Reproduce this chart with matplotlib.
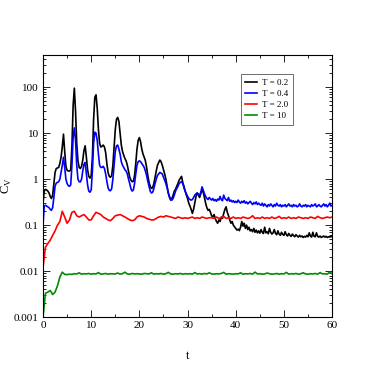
import numpy as np
import matplotlib
matplotlib.use("Agg")
import matplotlib.pyplot as plt
from matplotlib.ticker import MultipleLocator, LogLocator, NullFormatter, FixedLocator, FixedFormatter

plt.rcParams['font.family'] = ['Liberation Serif', 'DejaVu Serif']

# time grids (black/blue sampled every 0.25, red/green every 0.5)
t_fine = np.arange(0, 60.001, 0.25)
t_coarse = np.arange(0, 60.001, 0.5)

cv_T02 = [
    0.30, 0.55, 0.60, 0.58, 0.55, 0.50, 0.42, 0.38, 0.45, 0.80, 1.40, 1.70, 1.75, 1.80, 2.20, 3.00, 5.00, 9.50, 4.00, 1.90,
    1.55, 1.50, 1.50, 1.60, 5.0, 40, 95, 30, 6.0, 2.5, 1.8, 1.7, 1.9, 2.6, 4.2, 5.3, 3.0, 1.6, 1.15, 1.05,
    1.2, 3.0, 20, 60, 68, 35, 12, 6.0, 5.0, 5.2, 5.5, 5.0, 3.8, 2.2, 1.4, 1.15, 1.1, 1.2, 2.0, 5.0,
    12, 20, 22, 18, 10, 5.5, 4.0, 3.3, 2.8, 2.5, 2.0, 1.5, 1.1, 0.95, 0.88, 0.90, 1.2, 2.2, 4.5, 7.0,
    8.0, 6.5, 4.5, 3.5, 3.0, 2.5, 1.8, 1.2, 0.85, 0.70, 0.63, 0.65, 0.80, 1.1, 1.5, 2.0, 2.3, 2.6, 2.4, 2.0,
    1.6, 1.3, 1.0, 0.70, 0.50, 0.40, 0.35, 0.38, 0.45, 0.55, 0.60, 0.70, 0.80, 0.95, 1.05, 1.15, 0.85, 0.70, 0.55, 0.45,
    0.38, 0.30, 0.26, 0.22, 0.18, 0.22, 0.30, 0.42, 0.50, 0.45, 0.40, 0.48, 0.58, 0.52, 0.40, 0.30, 0.24, 0.21, 0.22, 0.19,
    0.16, 0.15, 0.17, 0.14, 0.12, 0.11, 0.13, 0.12, 0.15, 0.14, 0.18, 0.22, 0.25, 0.19, 0.16, 0.13, 0.11, 0.12, 0.10, 0.092,
    0.085, 0.078, 0.082, 0.076, 0.09, 0.12, 0.095, 0.11, 0.085, 0.10, 0.08, 0.09, 0.075, 0.08, 0.072, 0.085, 0.07, 0.078, 0.068, 0.075,
    0.067, 0.08, 0.07, 0.066, 0.09, 0.068, 0.072, 0.065, 0.085, 0.07, 0.064, 0.068, 0.08, 0.066, 0.062, 0.075, 0.064, 0.06, 0.07, 0.063,
    0.06, 0.072, 0.062, 0.058, 0.066, 0.06, 0.057, 0.064, 0.059, 0.056, 0.062, 0.058, 0.055, 0.06, 0.056, 0.058, 0.054, 0.057, 0.055, 0.06,
    0.056, 0.068, 0.058, 0.055, 0.07, 0.057, 0.056, 0.068, 0.057, 0.055, 0.058, 0.054, 0.056, 0.058, 0.055, 0.057, 0.054, 0.056, 0.055, 0.057,
    0.056,
]

cv_T04 = [
    0.10, 0.26, 0.27, 0.26, 0.25, 0.24, 0.22, 0.21, 0.24, 0.40, 0.70, 0.82, 0.85, 0.88, 1.0, 1.4, 2.0, 3.0, 1.8, 1.0,
    0.80, 0.72, 0.70, 0.75, 2.0, 8.0, 13.0, 7.0, 2.0, 1.0, 0.88, 0.87, 1.0, 1.5, 2.1, 2.3, 1.3, 0.75, 0.55, 0.52,
    0.58, 1.5, 6.0, 10.5, 10.0, 7.0, 3.5, 2.0, 1.8, 1.8, 1.9, 1.7, 1.3, 0.9, 0.65, 0.57, 0.56, 0.62, 1.0, 2.0,
    4.0, 5.3, 5.5, 4.5, 3.5, 2.4, 2.0, 1.8, 1.6, 1.5, 1.3, 1.0, 0.80, 0.62, 0.55, 0.58, 0.80, 1.3, 2.0, 2.4,
    2.5, 2.4, 2.2, 2.0, 1.8, 1.5, 1.2, 0.9, 0.70, 0.55, 0.50, 0.52, 0.62, 0.80, 1.0, 1.2, 1.3, 1.4, 1.35, 1.3,
    1.1, 0.95, 0.80, 0.65, 0.50, 0.42, 0.36, 0.35, 0.38, 0.45, 0.55, 0.62, 0.70, 0.80, 0.85, 0.88, 0.80, 0.65, 0.55, 0.48,
    0.42, 0.38, 0.36, 0.35, 0.36, 0.40, 0.45, 0.48, 0.50, 0.47, 0.45, 0.52, 0.68, 0.58, 0.48, 0.42, 0.38, 0.36, 0.40, 0.37,
    0.35, 0.38, 0.34, 0.36, 0.33, 0.37, 0.35, 0.42, 0.36, 0.34, 0.45, 0.38, 0.36, 0.34, 0.40, 0.33, 0.35, 0.32, 0.34, 0.31,
    0.33, 0.31, 0.35, 0.32, 0.30, 0.33, 0.31, 0.34, 0.30, 0.32, 0.29, 0.31, 0.33, 0.30, 0.28, 0.31, 0.29, 0.32, 0.28, 0.30,
    0.28, 0.27, 0.30, 0.26, 0.29, 0.27, 0.25, 0.28, 0.26, 0.29, 0.27, 0.25, 0.28, 0.26, 0.30, 0.27, 0.26, 0.28, 0.25, 0.27,
    0.26, 0.28, 0.25, 0.27, 0.29, 0.26, 0.27, 0.25, 0.28, 0.26, 0.27, 0.25, 0.26, 0.29, 0.26, 0.25, 0.27, 0.26, 0.28, 0.25,
    0.27, 0.26, 0.25, 0.28, 0.26, 0.27, 0.29, 0.25, 0.26, 0.28, 0.26, 0.25, 0.27, 0.29, 0.26, 0.28, 0.25, 0.27, 0.30, 0.26,
    0.27,
]

cv_T20 = [
    0.012, 0.033, 0.040, 0.047, 0.060, 0.075, 0.10, 0.12, 0.20, 0.15,
    0.11, 0.13, 0.19, 0.20, 0.16, 0.15, 0.16, 0.17, 0.15, 0.13,
    0.13, 0.16, 0.19, 0.18, 0.17, 0.15, 0.14, 0.13, 0.125, 0.14,
    0.16, 0.165, 0.17, 0.16, 0.15, 0.14, 0.13, 0.125, 0.13, 0.15,
    0.16, 0.155, 0.15, 0.14, 0.135, 0.13, 0.13, 0.14, 0.15, 0.155,
    0.15, 0.16, 0.155, 0.15, 0.145, 0.14, 0.15, 0.145, 0.14, 0.145,
    0.14, 0.145, 0.15, 0.14, 0.145, 0.14, 0.15, 0.145, 0.14, 0.145,
    0.145, 0.14, 0.15, 0.14, 0.145, 0.155, 0.14, 0.145, 0.14, 0.15,
    0.14, 0.145, 0.14, 0.15, 0.145, 0.14, 0.145, 0.16, 0.14, 0.145,
    0.14, 0.15, 0.14, 0.145, 0.14, 0.15, 0.14, 0.145, 0.155, 0.14,
    0.145, 0.14, 0.15, 0.14, 0.145, 0.14, 0.15, 0.145, 0.14, 0.145,
    0.14, 0.15, 0.145, 0.14, 0.155, 0.145, 0.14, 0.145, 0.15, 0.145,
    0.15,
]

cv_T10 = [
    0.001, 0.0033, 0.0035, 0.0038, 0.0031, 0.0035, 0.0048, 0.0075, 0.0095, 0.0085,
    0.0084, 0.0086, 0.0085, 0.0088, 0.0087, 0.0092, 0.0086, 0.0088, 0.0087, 0.0089,
    0.0086, 0.0088, 0.0087, 0.0093, 0.0086, 0.0087, 0.0089, 0.0086, 0.0088, 0.0087,
    0.0087, 0.0091, 0.0086, 0.0088, 0.0095, 0.0087, 0.0086, 0.0089, 0.0087, 0.0088,
    0.0087, 0.0086, 0.0089, 0.0088, 0.0087, 0.0092, 0.0086, 0.0088, 0.0087, 0.0089,
    0.0086, 0.0088, 0.0094, 0.0087, 0.0086, 0.0088, 0.0087, 0.0089, 0.0086, 0.0088,
    0.0087, 0.0088, 0.0086, 0.0093, 0.0087, 0.0088, 0.0086, 0.0089, 0.0087, 0.0092,
    0.0087, 0.0086, 0.0088, 0.0087, 0.0089, 0.0094, 0.0086, 0.0088, 0.0087, 0.0086,
    0.0088, 0.0087, 0.0092, 0.0086, 0.0088, 0.0087, 0.0089, 0.0086, 0.0095, 0.0087,
    0.0088, 0.0086, 0.0087, 0.0091, 0.0088, 0.0086, 0.0087, 0.0089, 0.0086, 0.0088,
    0.0087, 0.0094, 0.0086, 0.0088, 0.0087, 0.0089, 0.0086, 0.0088, 0.0092, 0.0087,
    0.0086, 0.0088, 0.0087, 0.0089, 0.0086, 0.0093, 0.0087, 0.0088, 0.0086, 0.0096,
    0.0088,
]

labels = ["T = 0.2", "T = 0.4", "T = 2.0", "T = 10"]
ytick_vals = [0.001, 0.01, 0.1, 1, 10, 100]
ytick_labels = ["0.001", "0.01", "0.1", "1", "10", "100"]

fig = plt.figure(figsize=(3.74, 3.74), dpi=100)
ax = fig.add_axes([0.115, 0.152, 0.773, 0.701])

ax.plot(t_fine, cv_T02, color='black', lw=1.2, label=labels[0])
ax.plot(t_fine, cv_T04, color='#0000ff', lw=1.2, label=labels[1])
ax.plot(t_coarse, cv_T20, color='#ff0000', lw=1.2, label=labels[2])
ax.plot(t_coarse, cv_T10, color='#008c00', lw=1.2, label=labels[3])

ax.set_yscale('log')
ax.set_xlim(0, 60)
ax.set_ylim(0.001, 500)

ax.xaxis.set_major_locator(MultipleLocator(10))
ax.xaxis.set_minor_locator(MultipleLocator(5))
ax.yaxis.set_major_locator(FixedLocator(ytick_vals))
ax.yaxis.set_major_formatter(FixedFormatter(ytick_labels))
ax.yaxis.set_minor_locator(LogLocator(base=10, subs=np.arange(2, 10), numticks=20))
ax.yaxis.set_minor_formatter(NullFormatter())

ax.tick_params(which='both', direction='in', top=True, right=True, labelsize=8, width=0.6, pad=3)
ax.tick_params(which='major', length=5)
ax.tick_params(which='minor', length=2.5)
for s in ax.spines.values():
    s.set_linewidth(0.8)

ax.set_xlabel('t', fontsize=9)
ax.xaxis.set_label_coords(0.5, -0.125)
ax.set_ylabel(r'C$_\mathregular{V}$', fontsize=9)
ax.yaxis.set_label_coords(-0.1, 0.5)

leg = ax.legend(loc='upper right', bbox_to_anchor=(0.865, 0.927), borderaxespad=0,
                fontsize=6.5, fancybox=False, edgecolor='#555555', framealpha=1,
                handlelength=1.3, handletextpad=0.6, labelspacing=0.3, borderpad=0.5)
leg.get_frame().set_linewidth(0.6)

fig.savefig('out.png', dpi=100)
